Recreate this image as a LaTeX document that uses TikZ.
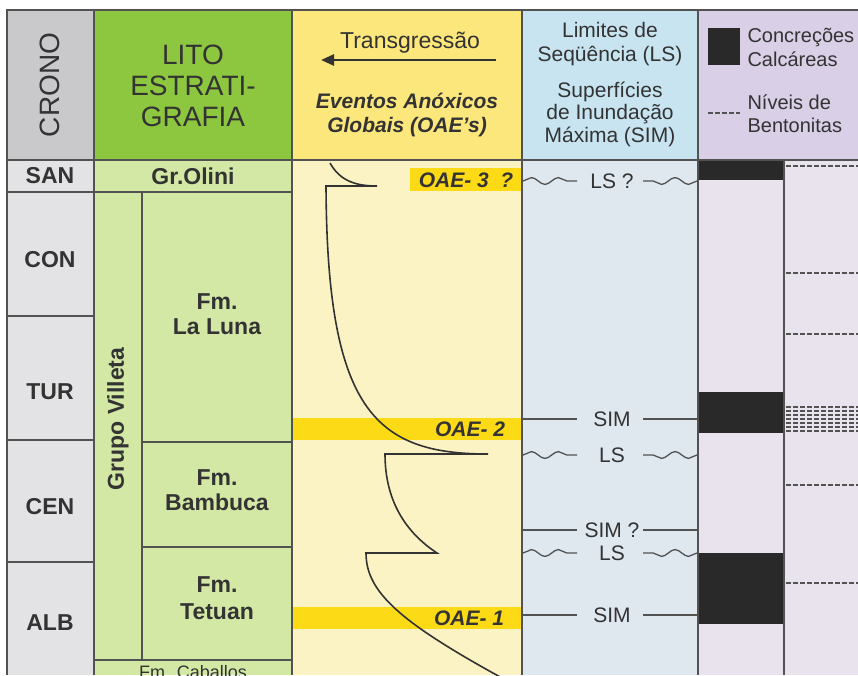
\documentclass[tikz,border=0pt]{standalone}
\usepackage{fontspec}
\setmainfont{Liberation Sans}
\usetikzlibrary{arrows.meta,decorations.pathmorphing}
\definecolor{cronohead}{HTML}{C9C9CB}
\definecolor{cronobody}{HTML}{E3E3E5}
\definecolor{litohead}{HTML}{8DC63F}
\definecolor{litobody}{HTML}{D3E8A5}
\definecolor{oaehead}{HTML}{FCE77C}
\definecolor{oaebody}{HTML}{FBF3C3}
\definecolor{oaeband}{HTML}{FDDA16}
\definecolor{lshead}{HTML}{C8E4F1}
\definecolor{lsbody}{HTML}{DFE8EF}
\definecolor{lavhead}{HTML}{D9CFE6}
\definecolor{lavbody}{HTML}{E9E3EE}
\definecolor{gridline}{HTML}{525252}
\definecolor{inkgray}{HTML}{333333}
\tikzset{grid/.style={draw=gridline, line width=1.6pt},
    hdr/.style={font=\fontsize{28}{31}\selectfont, text=inkgray, align=center},
    subhdr/.style={font=\fontsize{21}{24}\selectfont, text=inkgray, align=center},
    legend/.style={font=\fontsize{20}{24}\selectfont, text=inkgray, align=left, anchor=west},
    unit/.style={font=\bfseries\fontsize{23}{25}\selectfont, text=inkgray, align=center},
    oae/.style={font=\bfseries\itshape\fontsize{21}{24}\selectfont, text=inkgray},
    lvl/.style={font=\fontsize{21}{23}\selectfont, text=inkgray},
    flat/.style={draw=gridline, line width=1.1pt},
    wavy/.style={draw=gridline, line width=1.3pt,
        decorate, decoration={snake, segment length=27pt, amplitude=3.4pt}},
    bento/.style={draw=gridline, line width=1.6pt, dash pattern=on 4.5pt off 2.5pt},
    }
\begin{document}
\begin{tikzpicture}[x=1pt,y=-1pt]
\useasboundingbox (0,0) rectangle (858,675);
% column fills
\fill[cronohead] (7,10) rectangle (94,160);
\fill[litohead] (94,10) rectangle (292,160);
\fill[oaehead] (292,10) rectangle (522,160);
\fill[lshead] (522,10) rectangle (698,160);
\fill[lavhead] (698,10) rectangle (858,160);
\fill[cronobody] (7,160) rectangle (94,675);
\fill[litobody] (94,160) rectangle (292,675);
\fill[oaebody] (292,160) rectangle (522,675);
\fill[lsbody] (522,160) rectangle (698,675);
\fill[lavbody] (698,160) rectangle (858,675);
% anoxic bands
\fill[oaeband] (410,168) rectangle (522,191);
\fill[oaeband] (292,418) rectangle (522,440);
\fill[oaeband] (292,607) rectangle (522,629);
% concretions
\fill[inkgray!80!black] (698,160) rectangle (784,180);
\fill[inkgray!80!black] (698,392) rectangle (784,433);
\fill[inkgray!80!black] (698,553) rectangle (784,624);
% grid
\draw[grid] (7,675) -- (7,10) -- (858,10);
\draw[grid] (7,160) -- (858,160);
\foreach \xx in {94,292,522,698}
    \draw[grid] (\xx,10) -- (\xx,675);
\draw[grid] (784,160) -- (784,675);
\foreach \yy in {192,316,440,562}
    \draw[grid] (7,\yy) -- (94,\yy);
\draw[grid] (94,192) -- (292,192);
\draw[grid] (142,192) -- (142,660);
\draw[grid] (142,442) -- (292,442);
\draw[grid] (142,547) -- (292,547);
\draw[grid] (94,660) -- (292,660);
% bentonites
\foreach \yy in {166,273,334,485,583}
    \draw[bento] (786,\yy) -- (858,\yy);
\foreach \yy in {407,411,415,419,423,427,431}
    \draw[bento, line width=1.3pt] (786,\yy) -- (858,\yy);
% headers
\node[hdr, rotate=90] (crono) at (50,85) {CRONO};
\node[hdr] (lito) at (193,86) {LITO\\ESTRATI-\\GRAFIA};
\node[subhdr, font=\fontsize{23}{25}\selectfont] (transg) at (410,43) {Transgressão};
\coordinate (arrR) at (496,60);
\coordinate (arrL) at (321,60);
\draw[inkgray, line width=2.6pt, -{Triangle[length=13pt,width=11pt]}] (arrR) -- (arrL);
\node[oae, align=center] (eventos) at (407,115) {Eventos Anóxicos\\Globais (OAE's)};
\node[subhdr] (limites) at (610,44) {Limites de\\Seqüência (LS)};
\node[subhdr, font=\fontsize{21}{22.5}\selectfont] (superf) at (610,114) {Superfícies\\de Inundação\\Máxima (SIM)};
\fill[inkgray!80!black] (708,28) rectangle (740,65);
\node[legend] (concr) at (744,47) {Concreções\\Calcáreas};
\draw[bento] (708,113) -- (740,113);
\node[legend, font=\fontsize{20}{23}\selectfont] (niveis) at (744,114) {Níveis de\\Bentonitas};
% chronostratigraphy
\node[unit] (san) at (50,176) {SAN};
\node[unit] (con) at (50,260) {CON};
\node[unit] (tur) at (50,392) {TUR};
\node[unit] (cen) at (50,507) {CEN};
\node[unit] (alb) at (50,623) {ALB};
% lithostratigraphy
\node[unit] (olini) at (193,176) {Gr.Olini};
\node[unit, rotate=90] (villeta) at (118,419) {Grupo Villeta};
\node[unit] (laluna) at (217,314) {Fm.\\La Luna};
\node[unit] (bambuca) at (217,490) {Fm.\\Bambuca};
\node[unit, font=\bfseries\fontsize{23}{27}\selectfont] (tetuan) at (217,598) {Fm.\\Tetuan};
\node[font=\fontsize{18}{20}\selectfont, text=inkgray, anchor=base] (caballos) at (193,678) {Fm. Caballos};
% anoxic events
\node[oae] (oae3) at (466,180) {OAE- 3\ \ ?};
\node[oae] (oae2) at (470,429) {OAE- 2};
\node[oae] (oae1) at (469,618) {OAE- 1};
% transgression curve
\draw[inkgray, line width=1.6pt, line join=miter]
    (330,163) .. controls (340,181) and (356,186) .. (377,186) -- (326,186)
    .. controls (327,410) and (375,454) .. (488,454) -- (385,454)
    .. controls (385,500) and (405,532) .. (437,553) -- (366,553)
    .. controls (366,592) and (400,622) .. (502,678);
% sequence limits and maximum flooding
\foreach \yy/\txt/\kind [count=\i] in {181/LS ?/wavy, 419/SIM/flat, 455/LS/wavy,
        530/SIM ?/flat, 553/LS/wavy, 615/SIM/flat} {
    \node[lvl] (lvl\i) at (612,\yy) {\txt};
    \coordinate (lvl\i-l) at (523,\yy);
    \coordinate (lvl\i-r) at (697,\yy);
    \draw[\kind] (lvl\i-l) -- ++(54,0);
    \draw[\kind] (lvl\i-r) -- ++(-54,0);
    }%levels
\end{tikzpicture}
\end{document}
